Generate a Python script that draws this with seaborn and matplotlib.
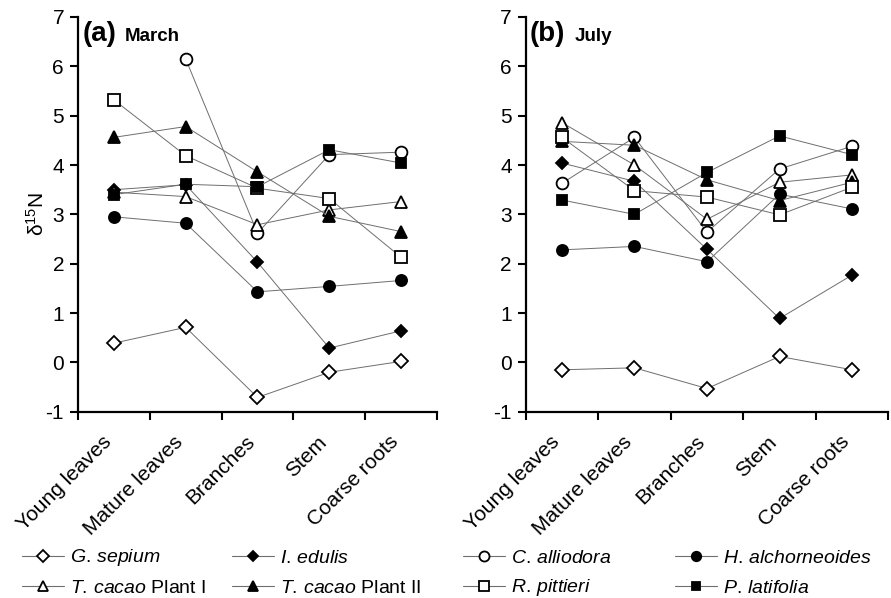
import matplotlib.pyplot as plt
import matplotlib.transforms as mtransforms
import numpy as np
import pandas as pd
import seaborn as sns
from matplotlib.lines import Line2D

organs = ["Young leaves", "Mature leaves", "Branches", "Stem", "Coarse roots"]

species = ["G. sepium", "I. edulis", "C. alliodora", "H. alchorneoides",
           "T. cacao Plant I", "T. cacao Plant II", "R. pittieri", "P. latifolia"]

# delta 15N, March
march_g_sepium = [0.39, 0.71, -0.71, -0.20, 0.02]
march_i_edulis = [3.50, 3.60, 2.03, 0.29, 0.64]
march_c_alliodora = [np.nan, 6.15, 2.62, 4.21, 4.26]
march_h_alchorneoides = [2.95, 2.82, 1.43, 1.54, 1.66]
march_t_cacao_1 = [3.45, 3.36, 2.79, 3.09, 3.26]
march_t_cacao_2 = [4.56, 4.78, 3.86, 2.96, 2.65]
march_r_pittieri = [5.32, 4.19, 3.53, 3.32, 2.13]
march_p_latifolia = [3.40, 3.61, 3.56, 4.31, 4.04]

# delta 15N, July
july_g_sepium = [-0.15, -0.11, -0.53, 0.12, -0.15]
july_i_edulis = [4.04, 3.67, 2.29, 0.89, 1.77]
july_c_alliodora = [3.63, 4.56, 2.64, 3.92, 4.38]
july_h_alchorneoides = [2.28, 2.35, 2.04, 3.41, 3.11]
july_t_cacao_1 = [4.86, 4.00, 2.90, 3.65, 3.80]
july_t_cacao_2 = [4.48, 4.40, 3.70, 3.28, 3.65]
july_r_pittieri = [4.56, 3.48, 3.35, 2.99, 3.55]
july_p_latifolia = [3.29, 3.00, 3.85, 4.59, 4.21]

march = [march_g_sepium, march_i_edulis, march_c_alliodora, march_h_alchorneoides,
         march_t_cacao_1, march_t_cacao_2, march_r_pittieri, march_p_latifolia]
july = [july_g_sepium, july_i_edulis, july_c_alliodora, july_h_alchorneoides,
        july_t_cacao_1, july_t_cacao_2, july_r_pittieri, july_p_latifolia]

# marker, filled?, size
styles = {
    "G. sepium": ("D", False, 7),
    "I. edulis": ("D", True, 6.5),
    "C. alliodora": ("o", False, 8.5),
    "H. alchorneoides": ("o", True, 8),
    "T. cacao Plant I": ("^", False, 8.5),
    "T. cacao Plant II": ("^", True, 8.5),
    "R. pittieri": ("s", False, 8),
    "P. latifolia": ("s", True, 7.5),
}

legend_labels = {
    "G. sepium": r"$\it{G.\,sepium}$",
    "I. edulis": r"$\it{I.\,edulis}$",
    "C. alliodora": r"$\it{C.\,alliodora}$",
    "H. alchorneoides": r"$\it{H.\,alchorneoides}$",
    "T. cacao Plant I": r"$\it{T.\,cacao}$ Plant I",
    "T. cacao Plant II": r"$\it{T.\,cacao}$ Plant II",
    "R. pittieri": r"$\it{R.\,pittieri}$",
    "P. latifolia": r"$\it{P.\,latifolia}$",
}

sns.set_style("ticks")
plt.rcParams["font.family"] = ["Liberation Sans", "DejaVu Sans"]
plt.rcParams["mathtext.fontset"] = "custom"
plt.rcParams["mathtext.rm"] = "Liberation Sans"
plt.rcParams["mathtext.it"] = "Liberation Sans:italic"
plt.rcParams["mathtext.bf"] = "Liberation Sans:bold"
plt.rcParams["axes.unicode_minus"] = False
for k in ["text.color", "axes.edgecolor", "axes.labelcolor", "xtick.color", "ytick.color"]:
    plt.rcParams[k] = "black"

line_col = "#6e6e6e"

fig = plt.figure(figsize=(8.91, 5.98), dpi=100)
ax1 = fig.add_axes([0.0875, 0.3115, 0.403, 0.6601])
ax2 = fig.add_axes([0.590, 0.3115, 0.407, 0.6601])


def draw(ax, values, tag, month, mx):
    rows = []
    for sp, vals in zip(species, values):
        for org, v in zip(organs, vals):
            rows.append({"species": sp, "organ": org, "d15N": v})
    df = pd.DataFrame(rows)
    for sp in species:
        m, filled, ms = styles[sp]
        sub = df[(df["species"] == sp) & df["d15N"].notna()]
        sns.lineplot(data=sub, x="organ", y="d15N", ax=ax, color=line_col,
                     lw=0.7, marker=m, markersize=ms,
                     markerfacecolor="k" if filled else "w",
                     markeredgecolor="k", markeredgewidth=1.3,
                     sort=False, legend=False)
    ax.set_xlim(-0.5, 4.5)
    ax.set_ylim(-1, 7)
    ax.set_xticks(np.arange(-0.5, 5, 1))
    ax.set_xticklabels([])
    ax.set_xticks(range(5), minor=True)
    ax.set_xticklabels(organs, minor=True, rotation=45, ha="right",
                       va="top", rotation_mode="anchor", fontsize=15)
    ax.tick_params(axis="x", which="minor", length=0, pad=12)
    shift = mtransforms.ScaledTranslation(-12 / 100, -4 / 100, fig.dpi_scale_trans)
    for lab in ax.get_xticklabels(minor=True):
        lab.set_transform(lab.get_transform() + shift)
    ax.tick_params(axis="x", which="major", length=6, width=1.5, direction="out")
    ax.set_yticks(range(-1, 8))
    ax.tick_params(axis="y", length=6, width=1.5, labelsize=15, pad=4)
    for s in ["left", "bottom"]:
        ax.spines[s].set_linewidth(1.6)
    sns.despine(ax=ax)
    ax.set_xlabel("")
    ax.set_ylabel("")
    ax.text(0.012, 0.94, tag, transform=ax.transAxes, fontsize=20,
            fontweight="bold", va="baseline")
    ax.text(mx, 0.94, month, transform=ax.transAxes,
            fontsize=13.5, fontweight="bold", va="baseline")


draw(ax1, march, "(a)", "March", 0.13)
draw(ax2, july, "(b)", "July", 0.135)
ax1.set_ylabel("\u03b4$^{15}$N", fontsize=15)
ax1.yaxis.set_label_coords(-0.085, 0.5)

handles = {}
for sp in species:
    m, filled, ms = styles[sp]
    handles[sp] = Line2D([], [], color=line_col, lw=0.8, marker=m, markersize=ms * 0.85,
                         markerfacecolor="k" if filled else "w",
                         markeredgecolor="k", markeredgewidth=1.3)

# one small legend per entry, placed on the reference grid (4 columns x 2 rows)
grid = [["G. sepium", "I. edulis", "C. alliodora", "H. alchorneoides"],
        ["T. cacao Plant I", "T. cacao Plant II", "R. pittieri", "P. latifolia"]]
col_x = [22, 232, 463, 675]
row_y = [558, 588]
for names, y0 in zip(grid, row_y):
    for sp, x0 in zip(names, col_x):
        fig.legend([handles[sp]], [legend_labels[sp]],
                   loc="center left", bbox_to_anchor=(x0 / 891, 1 - y0 / 598),
                   frameon=False, fontsize=14, handlelength=2.15, handletextpad=0.3,
                   borderpad=0, borderaxespad=0)

plt.savefig("out.png", dpi=100)
